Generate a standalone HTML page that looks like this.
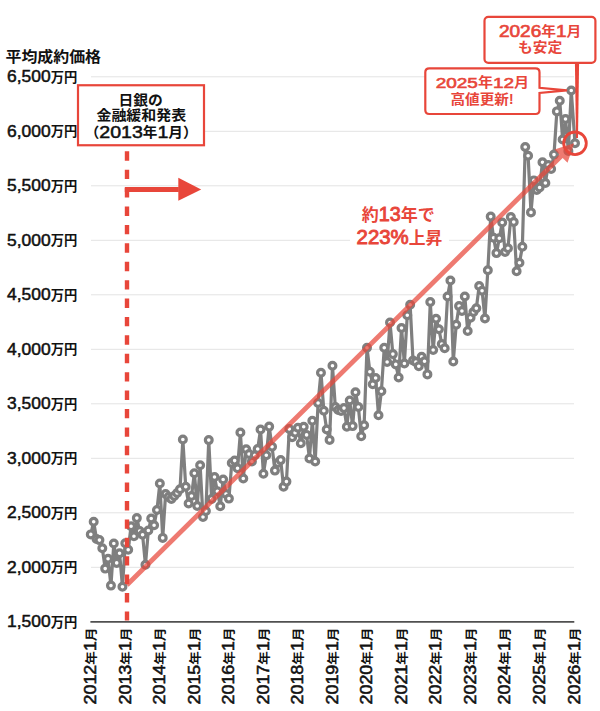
<!DOCTYPE html><html><head><meta charset="utf-8"><title>平均成約価格</title><style>
html,body{margin:0;padding:0;background:#fff;}
svg{display:block;}
text{font-family:"Liberation Sans", "Noto Sans CJK JP", sans-serif;font-weight:700;}
.d{font-weight:400;stroke:currentColor;}
</style></head><body>
<svg width="600" height="711" viewBox="0 0 600 711">
<rect width="600" height="711" fill="#fff"/>
<line x1="91" y1="76.8" x2="574" y2="76.8" stroke="#e3e3e3" stroke-width="1"/>
<line x1="91" y1="131.3" x2="574" y2="131.3" stroke="#e3e3e3" stroke-width="1"/>
<line x1="91" y1="185.8" x2="574" y2="185.8" stroke="#e3e3e3" stroke-width="1"/>
<line x1="91" y1="240.3" x2="574" y2="240.3" stroke="#e3e3e3" stroke-width="1"/>
<line x1="91" y1="294.8" x2="574" y2="294.8" stroke="#e3e3e3" stroke-width="1"/>
<line x1="91" y1="349.3" x2="574" y2="349.3" stroke="#e3e3e3" stroke-width="1"/>
<line x1="91" y1="403.8" x2="574" y2="403.8" stroke="#e3e3e3" stroke-width="1"/>
<line x1="91" y1="458.3" x2="574" y2="458.3" stroke="#e3e3e3" stroke-width="1"/>
<line x1="91" y1="512.8" x2="574" y2="512.8" stroke="#e3e3e3" stroke-width="1"/>
<line x1="91" y1="567.3" x2="574" y2="567.3" stroke="#e3e3e3" stroke-width="1"/>
<line x1="90.4" y1="621.9" x2="574.3" y2="621.9" stroke="#505050" stroke-width="1.7"/>
<text x="77.21" y="81.70" text-anchor="end" fill="#111" style="color:#111"><tspan dy="0.50" class="d" style="font-size:16.20px;stroke-width:0.49px" textLength="43.66" lengthAdjust="spacingAndGlyphs">6,500</tspan><tspan dy="-0.50" style="font-size:13.40px" textLength="26.58" lengthAdjust="spacingAndGlyphs">万円</tspan></text>
<text x="77.21" y="136.20" text-anchor="end" fill="#111" style="color:#111"><tspan dy="0.50" class="d" style="font-size:16.20px;stroke-width:0.49px" textLength="43.66" lengthAdjust="spacingAndGlyphs">6,000</tspan><tspan dy="-0.50" style="font-size:13.40px" textLength="26.58" lengthAdjust="spacingAndGlyphs">万円</tspan></text>
<text x="77.21" y="190.70" text-anchor="end" fill="#111" style="color:#111"><tspan dy="0.50" class="d" style="font-size:16.20px;stroke-width:0.49px" textLength="43.66" lengthAdjust="spacingAndGlyphs">5,500</tspan><tspan dy="-0.50" style="font-size:13.40px" textLength="26.58" lengthAdjust="spacingAndGlyphs">万円</tspan></text>
<text x="77.21" y="245.20" text-anchor="end" fill="#111" style="color:#111"><tspan dy="0.50" class="d" style="font-size:16.20px;stroke-width:0.49px" textLength="43.66" lengthAdjust="spacingAndGlyphs">5,000</tspan><tspan dy="-0.50" style="font-size:13.40px" textLength="26.58" lengthAdjust="spacingAndGlyphs">万円</tspan></text>
<text x="77.21" y="299.70" text-anchor="end" fill="#111" style="color:#111"><tspan dy="0.50" class="d" style="font-size:16.20px;stroke-width:0.49px" textLength="43.66" lengthAdjust="spacingAndGlyphs">4,500</tspan><tspan dy="-0.50" style="font-size:13.40px" textLength="26.58" lengthAdjust="spacingAndGlyphs">万円</tspan></text>
<text x="77.21" y="354.20" text-anchor="end" fill="#111" style="color:#111"><tspan dy="0.50" class="d" style="font-size:16.20px;stroke-width:0.49px" textLength="43.66" lengthAdjust="spacingAndGlyphs">4,000</tspan><tspan dy="-0.50" style="font-size:13.40px" textLength="26.58" lengthAdjust="spacingAndGlyphs">万円</tspan></text>
<text x="77.21" y="408.70" text-anchor="end" fill="#111" style="color:#111"><tspan dy="0.50" class="d" style="font-size:16.20px;stroke-width:0.49px" textLength="43.66" lengthAdjust="spacingAndGlyphs">3,500</tspan><tspan dy="-0.50" style="font-size:13.40px" textLength="26.58" lengthAdjust="spacingAndGlyphs">万円</tspan></text>
<text x="77.21" y="463.20" text-anchor="end" fill="#111" style="color:#111"><tspan dy="0.50" class="d" style="font-size:16.20px;stroke-width:0.49px" textLength="43.66" lengthAdjust="spacingAndGlyphs">3,000</tspan><tspan dy="-0.50" style="font-size:13.40px" textLength="26.58" lengthAdjust="spacingAndGlyphs">万円</tspan></text>
<text x="77.21" y="517.70" text-anchor="end" fill="#111" style="color:#111"><tspan dy="0.50" class="d" style="font-size:16.20px;stroke-width:0.49px" textLength="43.66" lengthAdjust="spacingAndGlyphs">2,500</tspan><tspan dy="-0.50" style="font-size:13.40px" textLength="26.58" lengthAdjust="spacingAndGlyphs">万円</tspan></text>
<text x="77.21" y="572.20" text-anchor="end" fill="#111" style="color:#111"><tspan dy="0.50" class="d" style="font-size:16.20px;stroke-width:0.49px" textLength="43.66" lengthAdjust="spacingAndGlyphs">2,000</tspan><tspan dy="-0.50" style="font-size:13.40px" textLength="26.58" lengthAdjust="spacingAndGlyphs">万円</tspan></text>
<text x="77.21" y="626.70" text-anchor="end" fill="#111" style="color:#111"><tspan dy="0.50" class="d" style="font-size:16.20px;stroke-width:0.49px" textLength="43.66" lengthAdjust="spacingAndGlyphs">1,500</tspan><tspan dy="-0.50" style="font-size:13.40px" textLength="26.58" lengthAdjust="spacingAndGlyphs">万円</tspan></text>
<text x="5.49" y="62.17" text-anchor="start" fill="#111" style="color:#111"><tspan style="font-size:15.30px" textLength="95.57" lengthAdjust="spacingAndGlyphs">平均成約価格</tspan></text>
<text transform="translate(96.00,627.61) rotate(-90)" text-anchor="end" fill="#111" style="color:#111"><tspan class="d" style="font-size:15.80px;stroke-width:0.55px" textLength="39.74" lengthAdjust="spacingAndGlyphs">2012</tspan><tspan style="font-size:12.35px" textLength="13.59" lengthAdjust="spacingAndGlyphs">年</tspan><tspan class="d" style="font-size:15.80px;stroke-width:0.55px" textLength="9.94" lengthAdjust="spacingAndGlyphs">1</tspan><tspan style="font-size:12.35px" textLength="13.59" lengthAdjust="spacingAndGlyphs">月</tspan></text>
<text transform="translate(130.54,627.61) rotate(-90)" text-anchor="end" fill="#111" style="color:#111"><tspan class="d" style="font-size:15.80px;stroke-width:0.55px" textLength="39.74" lengthAdjust="spacingAndGlyphs">2013</tspan><tspan style="font-size:12.35px" textLength="13.59" lengthAdjust="spacingAndGlyphs">年</tspan><tspan class="d" style="font-size:15.80px;stroke-width:0.55px" textLength="9.94" lengthAdjust="spacingAndGlyphs">1</tspan><tspan style="font-size:12.35px" textLength="13.59" lengthAdjust="spacingAndGlyphs">月</tspan></text>
<text transform="translate(165.08,627.61) rotate(-90)" text-anchor="end" fill="#111" style="color:#111"><tspan class="d" style="font-size:15.80px;stroke-width:0.55px" textLength="39.74" lengthAdjust="spacingAndGlyphs">2014</tspan><tspan style="font-size:12.35px" textLength="13.59" lengthAdjust="spacingAndGlyphs">年</tspan><tspan class="d" style="font-size:15.80px;stroke-width:0.55px" textLength="9.94" lengthAdjust="spacingAndGlyphs">1</tspan><tspan style="font-size:12.35px" textLength="13.59" lengthAdjust="spacingAndGlyphs">月</tspan></text>
<text transform="translate(199.62,627.61) rotate(-90)" text-anchor="end" fill="#111" style="color:#111"><tspan class="d" style="font-size:15.80px;stroke-width:0.55px" textLength="39.74" lengthAdjust="spacingAndGlyphs">2015</tspan><tspan style="font-size:12.35px" textLength="13.59" lengthAdjust="spacingAndGlyphs">年</tspan><tspan class="d" style="font-size:15.80px;stroke-width:0.55px" textLength="9.94" lengthAdjust="spacingAndGlyphs">1</tspan><tspan style="font-size:12.35px" textLength="13.59" lengthAdjust="spacingAndGlyphs">月</tspan></text>
<text transform="translate(234.16,627.61) rotate(-90)" text-anchor="end" fill="#111" style="color:#111"><tspan class="d" style="font-size:15.80px;stroke-width:0.55px" textLength="39.74" lengthAdjust="spacingAndGlyphs">2016</tspan><tspan style="font-size:12.35px" textLength="13.59" lengthAdjust="spacingAndGlyphs">年</tspan><tspan class="d" style="font-size:15.80px;stroke-width:0.55px" textLength="9.94" lengthAdjust="spacingAndGlyphs">1</tspan><tspan style="font-size:12.35px" textLength="13.59" lengthAdjust="spacingAndGlyphs">月</tspan></text>
<text transform="translate(268.70,627.61) rotate(-90)" text-anchor="end" fill="#111" style="color:#111"><tspan class="d" style="font-size:15.80px;stroke-width:0.55px" textLength="39.74" lengthAdjust="spacingAndGlyphs">2017</tspan><tspan style="font-size:12.35px" textLength="13.59" lengthAdjust="spacingAndGlyphs">年</tspan><tspan class="d" style="font-size:15.80px;stroke-width:0.55px" textLength="9.94" lengthAdjust="spacingAndGlyphs">1</tspan><tspan style="font-size:12.35px" textLength="13.59" lengthAdjust="spacingAndGlyphs">月</tspan></text>
<text transform="translate(303.24,627.61) rotate(-90)" text-anchor="end" fill="#111" style="color:#111"><tspan class="d" style="font-size:15.80px;stroke-width:0.55px" textLength="39.74" lengthAdjust="spacingAndGlyphs">2018</tspan><tspan style="font-size:12.35px" textLength="13.59" lengthAdjust="spacingAndGlyphs">年</tspan><tspan class="d" style="font-size:15.80px;stroke-width:0.55px" textLength="9.94" lengthAdjust="spacingAndGlyphs">1</tspan><tspan style="font-size:12.35px" textLength="13.59" lengthAdjust="spacingAndGlyphs">月</tspan></text>
<text transform="translate(337.78,627.61) rotate(-90)" text-anchor="end" fill="#111" style="color:#111"><tspan class="d" style="font-size:15.80px;stroke-width:0.55px" textLength="39.74" lengthAdjust="spacingAndGlyphs">2019</tspan><tspan style="font-size:12.35px" textLength="13.59" lengthAdjust="spacingAndGlyphs">年</tspan><tspan class="d" style="font-size:15.80px;stroke-width:0.55px" textLength="9.94" lengthAdjust="spacingAndGlyphs">1</tspan><tspan style="font-size:12.35px" textLength="13.59" lengthAdjust="spacingAndGlyphs">月</tspan></text>
<text transform="translate(372.32,627.61) rotate(-90)" text-anchor="end" fill="#111" style="color:#111"><tspan class="d" style="font-size:15.80px;stroke-width:0.55px" textLength="39.74" lengthAdjust="spacingAndGlyphs">2020</tspan><tspan style="font-size:12.35px" textLength="13.59" lengthAdjust="spacingAndGlyphs">年</tspan><tspan class="d" style="font-size:15.80px;stroke-width:0.55px" textLength="9.94" lengthAdjust="spacingAndGlyphs">1</tspan><tspan style="font-size:12.35px" textLength="13.59" lengthAdjust="spacingAndGlyphs">月</tspan></text>
<text transform="translate(406.86,627.61) rotate(-90)" text-anchor="end" fill="#111" style="color:#111"><tspan class="d" style="font-size:15.80px;stroke-width:0.55px" textLength="39.74" lengthAdjust="spacingAndGlyphs">2021</tspan><tspan style="font-size:12.35px" textLength="13.59" lengthAdjust="spacingAndGlyphs">年</tspan><tspan class="d" style="font-size:15.80px;stroke-width:0.55px" textLength="9.94" lengthAdjust="spacingAndGlyphs">1</tspan><tspan style="font-size:12.35px" textLength="13.59" lengthAdjust="spacingAndGlyphs">月</tspan></text>
<text transform="translate(441.40,627.61) rotate(-90)" text-anchor="end" fill="#111" style="color:#111"><tspan class="d" style="font-size:15.80px;stroke-width:0.55px" textLength="39.74" lengthAdjust="spacingAndGlyphs">2022</tspan><tspan style="font-size:12.35px" textLength="13.59" lengthAdjust="spacingAndGlyphs">年</tspan><tspan class="d" style="font-size:15.80px;stroke-width:0.55px" textLength="9.94" lengthAdjust="spacingAndGlyphs">1</tspan><tspan style="font-size:12.35px" textLength="13.59" lengthAdjust="spacingAndGlyphs">月</tspan></text>
<text transform="translate(475.94,627.61) rotate(-90)" text-anchor="end" fill="#111" style="color:#111"><tspan class="d" style="font-size:15.80px;stroke-width:0.55px" textLength="39.74" lengthAdjust="spacingAndGlyphs">2023</tspan><tspan style="font-size:12.35px" textLength="13.59" lengthAdjust="spacingAndGlyphs">年</tspan><tspan class="d" style="font-size:15.80px;stroke-width:0.55px" textLength="9.94" lengthAdjust="spacingAndGlyphs">1</tspan><tspan style="font-size:12.35px" textLength="13.59" lengthAdjust="spacingAndGlyphs">月</tspan></text>
<text transform="translate(510.48,627.61) rotate(-90)" text-anchor="end" fill="#111" style="color:#111"><tspan class="d" style="font-size:15.80px;stroke-width:0.55px" textLength="39.74" lengthAdjust="spacingAndGlyphs">2024</tspan><tspan style="font-size:12.35px" textLength="13.59" lengthAdjust="spacingAndGlyphs">年</tspan><tspan class="d" style="font-size:15.80px;stroke-width:0.55px" textLength="9.94" lengthAdjust="spacingAndGlyphs">1</tspan><tspan style="font-size:12.35px" textLength="13.59" lengthAdjust="spacingAndGlyphs">月</tspan></text>
<text transform="translate(545.02,627.61) rotate(-90)" text-anchor="end" fill="#111" style="color:#111"><tspan class="d" style="font-size:15.80px;stroke-width:0.55px" textLength="39.74" lengthAdjust="spacingAndGlyphs">2025</tspan><tspan style="font-size:12.35px" textLength="13.59" lengthAdjust="spacingAndGlyphs">年</tspan><tspan class="d" style="font-size:15.80px;stroke-width:0.55px" textLength="9.94" lengthAdjust="spacingAndGlyphs">1</tspan><tspan style="font-size:12.35px" textLength="13.59" lengthAdjust="spacingAndGlyphs">月</tspan></text>
<text transform="translate(579.56,627.61) rotate(-90)" text-anchor="end" fill="#111" style="color:#111"><tspan class="d" style="font-size:15.80px;stroke-width:0.55px" textLength="39.74" lengthAdjust="spacingAndGlyphs">2026</tspan><tspan style="font-size:12.35px" textLength="13.59" lengthAdjust="spacingAndGlyphs">年</tspan><tspan class="d" style="font-size:15.80px;stroke-width:0.55px" textLength="9.94" lengthAdjust="spacingAndGlyphs">1</tspan><tspan style="font-size:12.35px" textLength="13.59" lengthAdjust="spacingAndGlyphs">月</tspan></text>
<polyline points="90.80,534.40 93.68,521.80 96.55,539.00 99.43,540.10 102.31,548.30 105.19,568.60 108.06,558.80 110.94,585.60 113.82,543.50 116.69,562.90 119.57,553.30 122.45,586.70 125.32,543.30 128.20,549.70 131.08,526.30 133.95,536.20 136.83,518.10 139.71,531.00 142.59,534.80 145.46,564.80 148.34,530.50 151.22,518.50 154.09,525.20 156.97,510.00 159.85,483.50 162.72,537.90 165.60,494.00 168.48,497.00 171.36,499.00 174.23,496.00 177.11,493.00 179.99,489.30 182.86,439.50 185.74,486.80 188.62,503.50 191.50,496.00 194.37,473.30 197.25,506.00 200.13,465.30 203.00,517.00 205.88,511.00 208.76,440.10 211.63,499.00 214.51,477.00 217.39,491.30 220.26,506.20 223.14,479.50 226.02,494.00 228.90,498.60 231.77,463.00 234.65,460.60 237.53,468.20 240.40,432.50 243.28,478.50 246.16,449.20 249.03,454.00 251.91,461.50 254.79,455.20 257.67,449.00 260.54,429.50 263.42,473.70 266.30,455.20 269.17,426.60 272.05,446.70 274.93,470.60 277.81,463.00 280.68,460.10 283.56,486.70 286.44,481.60 289.31,429.00 292.19,437.30 295.07,432.80 297.94,427.70 300.82,443.20 303.70,426.70 306.57,434.90 309.45,458.50 312.33,420.70 315.21,461.50 318.08,403.00 320.96,372.70 323.84,410.70 326.71,429.50 329.59,439.90 332.47,365.80 335.34,407.00 338.22,410.00 341.10,411.00 343.98,408.10 346.85,426.70 349.73,400.50 352.61,426.10 355.48,392.30 358.36,407.00 361.24,436.20 364.12,425.30 366.99,347.80 369.87,371.80 372.75,384.20 375.62,378.00 378.50,415.20 381.38,391.30 384.25,347.80 387.13,362.00 390.01,322.50 392.88,354.10 395.76,364.40 398.64,377.50 401.52,328.00 404.39,363.50 407.27,315.30 410.15,304.80 413.02,360.50 415.90,362.00 418.78,366.30 421.65,356.80 424.53,361.30 427.41,374.40 430.29,302.00 433.16,350.00 436.04,318.70 438.92,329.20 441.79,344.00 444.67,348.20 447.55,296.50 450.43,280.50 453.30,361.50 456.18,324.80 459.06,306.10 461.93,311.00 464.81,296.50 467.69,331.00 470.56,317.80 473.44,312.00 476.32,308.20 479.19,286.00 482.07,290.70 484.95,318.50 487.83,270.20 490.70,216.60 493.58,237.70 496.46,253.10 499.33,238.20 502.21,222.50 505.09,252.00 507.96,248.30 510.84,217.00 513.72,222.00 516.60,271.20 519.47,262.80 522.35,246.80 525.23,147.00 528.10,155.80 530.98,212.40 533.86,180.40 536.73,190.00 539.61,187.50 542.49,162.30 545.37,183.00 548.24,165.00 551.12,169.00 554.00,154.60 556.87,111.40 559.75,100.80 562.63,139.50 565.50,119.00 568.38,151.00 571.26,90.50 575.00,143.30" fill="none" stroke="#7f7f7f" stroke-width="3.2" stroke-linejoin="round"/>
<circle cx="90.80" cy="534.40" r="3.4" fill="#fff" stroke="#7f7f7f" stroke-width="3.2"/>
<circle cx="93.68" cy="521.80" r="3.4" fill="#fff" stroke="#7f7f7f" stroke-width="3.2"/>
<circle cx="96.55" cy="539.00" r="3.4" fill="#fff" stroke="#7f7f7f" stroke-width="3.2"/>
<circle cx="99.43" cy="540.10" r="3.4" fill="#fff" stroke="#7f7f7f" stroke-width="3.2"/>
<circle cx="102.31" cy="548.30" r="3.4" fill="#fff" stroke="#7f7f7f" stroke-width="3.2"/>
<circle cx="105.19" cy="568.60" r="3.4" fill="#fff" stroke="#7f7f7f" stroke-width="3.2"/>
<circle cx="108.06" cy="558.80" r="3.4" fill="#fff" stroke="#7f7f7f" stroke-width="3.2"/>
<circle cx="110.94" cy="585.60" r="3.4" fill="#fff" stroke="#7f7f7f" stroke-width="3.2"/>
<circle cx="113.82" cy="543.50" r="3.4" fill="#fff" stroke="#7f7f7f" stroke-width="3.2"/>
<circle cx="116.69" cy="562.90" r="3.4" fill="#fff" stroke="#7f7f7f" stroke-width="3.2"/>
<circle cx="119.57" cy="553.30" r="3.4" fill="#fff" stroke="#7f7f7f" stroke-width="3.2"/>
<circle cx="122.45" cy="586.70" r="3.4" fill="#fff" stroke="#7f7f7f" stroke-width="3.2"/>
<circle cx="125.32" cy="543.30" r="3.4" fill="#fff" stroke="#7f7f7f" stroke-width="3.2"/>
<circle cx="128.20" cy="549.70" r="3.4" fill="#fff" stroke="#7f7f7f" stroke-width="3.2"/>
<circle cx="131.08" cy="526.30" r="3.4" fill="#fff" stroke="#7f7f7f" stroke-width="3.2"/>
<circle cx="133.95" cy="536.20" r="3.4" fill="#fff" stroke="#7f7f7f" stroke-width="3.2"/>
<circle cx="136.83" cy="518.10" r="3.4" fill="#fff" stroke="#7f7f7f" stroke-width="3.2"/>
<circle cx="139.71" cy="531.00" r="3.4" fill="#fff" stroke="#7f7f7f" stroke-width="3.2"/>
<circle cx="142.59" cy="534.80" r="3.4" fill="#fff" stroke="#7f7f7f" stroke-width="3.2"/>
<circle cx="145.46" cy="564.80" r="3.4" fill="#fff" stroke="#7f7f7f" stroke-width="3.2"/>
<circle cx="148.34" cy="530.50" r="3.4" fill="#fff" stroke="#7f7f7f" stroke-width="3.2"/>
<circle cx="151.22" cy="518.50" r="3.4" fill="#fff" stroke="#7f7f7f" stroke-width="3.2"/>
<circle cx="154.09" cy="525.20" r="3.4" fill="#fff" stroke="#7f7f7f" stroke-width="3.2"/>
<circle cx="156.97" cy="510.00" r="3.4" fill="#fff" stroke="#7f7f7f" stroke-width="3.2"/>
<circle cx="159.85" cy="483.50" r="3.4" fill="#fff" stroke="#7f7f7f" stroke-width="3.2"/>
<circle cx="162.72" cy="537.90" r="3.4" fill="#fff" stroke="#7f7f7f" stroke-width="3.2"/>
<circle cx="165.60" cy="494.00" r="3.4" fill="#fff" stroke="#7f7f7f" stroke-width="3.2"/>
<circle cx="168.48" cy="497.00" r="3.4" fill="#fff" stroke="#7f7f7f" stroke-width="3.2"/>
<circle cx="171.36" cy="499.00" r="3.4" fill="#fff" stroke="#7f7f7f" stroke-width="3.2"/>
<circle cx="174.23" cy="496.00" r="3.4" fill="#fff" stroke="#7f7f7f" stroke-width="3.2"/>
<circle cx="177.11" cy="493.00" r="3.4" fill="#fff" stroke="#7f7f7f" stroke-width="3.2"/>
<circle cx="179.99" cy="489.30" r="3.4" fill="#fff" stroke="#7f7f7f" stroke-width="3.2"/>
<circle cx="182.86" cy="439.50" r="3.4" fill="#fff" stroke="#7f7f7f" stroke-width="3.2"/>
<circle cx="185.74" cy="486.80" r="3.4" fill="#fff" stroke="#7f7f7f" stroke-width="3.2"/>
<circle cx="188.62" cy="503.50" r="3.4" fill="#fff" stroke="#7f7f7f" stroke-width="3.2"/>
<circle cx="191.50" cy="496.00" r="3.4" fill="#fff" stroke="#7f7f7f" stroke-width="3.2"/>
<circle cx="194.37" cy="473.30" r="3.4" fill="#fff" stroke="#7f7f7f" stroke-width="3.2"/>
<circle cx="197.25" cy="506.00" r="3.4" fill="#fff" stroke="#7f7f7f" stroke-width="3.2"/>
<circle cx="200.13" cy="465.30" r="3.4" fill="#fff" stroke="#7f7f7f" stroke-width="3.2"/>
<circle cx="203.00" cy="517.00" r="3.4" fill="#fff" stroke="#7f7f7f" stroke-width="3.2"/>
<circle cx="205.88" cy="511.00" r="3.4" fill="#fff" stroke="#7f7f7f" stroke-width="3.2"/>
<circle cx="208.76" cy="440.10" r="3.4" fill="#fff" stroke="#7f7f7f" stroke-width="3.2"/>
<circle cx="211.63" cy="499.00" r="3.4" fill="#fff" stroke="#7f7f7f" stroke-width="3.2"/>
<circle cx="214.51" cy="477.00" r="3.4" fill="#fff" stroke="#7f7f7f" stroke-width="3.2"/>
<circle cx="217.39" cy="491.30" r="3.4" fill="#fff" stroke="#7f7f7f" stroke-width="3.2"/>
<circle cx="220.26" cy="506.20" r="3.4" fill="#fff" stroke="#7f7f7f" stroke-width="3.2"/>
<circle cx="223.14" cy="479.50" r="3.4" fill="#fff" stroke="#7f7f7f" stroke-width="3.2"/>
<circle cx="226.02" cy="494.00" r="3.4" fill="#fff" stroke="#7f7f7f" stroke-width="3.2"/>
<circle cx="228.90" cy="498.60" r="3.4" fill="#fff" stroke="#7f7f7f" stroke-width="3.2"/>
<circle cx="231.77" cy="463.00" r="3.4" fill="#fff" stroke="#7f7f7f" stroke-width="3.2"/>
<circle cx="234.65" cy="460.60" r="3.4" fill="#fff" stroke="#7f7f7f" stroke-width="3.2"/>
<circle cx="237.53" cy="468.20" r="3.4" fill="#fff" stroke="#7f7f7f" stroke-width="3.2"/>
<circle cx="240.40" cy="432.50" r="3.4" fill="#fff" stroke="#7f7f7f" stroke-width="3.2"/>
<circle cx="243.28" cy="478.50" r="3.4" fill="#fff" stroke="#7f7f7f" stroke-width="3.2"/>
<circle cx="246.16" cy="449.20" r="3.4" fill="#fff" stroke="#7f7f7f" stroke-width="3.2"/>
<circle cx="249.03" cy="454.00" r="3.4" fill="#fff" stroke="#7f7f7f" stroke-width="3.2"/>
<circle cx="251.91" cy="461.50" r="3.4" fill="#fff" stroke="#7f7f7f" stroke-width="3.2"/>
<circle cx="254.79" cy="455.20" r="3.4" fill="#fff" stroke="#7f7f7f" stroke-width="3.2"/>
<circle cx="257.67" cy="449.00" r="3.4" fill="#fff" stroke="#7f7f7f" stroke-width="3.2"/>
<circle cx="260.54" cy="429.50" r="3.4" fill="#fff" stroke="#7f7f7f" stroke-width="3.2"/>
<circle cx="263.42" cy="473.70" r="3.4" fill="#fff" stroke="#7f7f7f" stroke-width="3.2"/>
<circle cx="266.30" cy="455.20" r="3.4" fill="#fff" stroke="#7f7f7f" stroke-width="3.2"/>
<circle cx="269.17" cy="426.60" r="3.4" fill="#fff" stroke="#7f7f7f" stroke-width="3.2"/>
<circle cx="272.05" cy="446.70" r="3.4" fill="#fff" stroke="#7f7f7f" stroke-width="3.2"/>
<circle cx="274.93" cy="470.60" r="3.4" fill="#fff" stroke="#7f7f7f" stroke-width="3.2"/>
<circle cx="277.81" cy="463.00" r="3.4" fill="#fff" stroke="#7f7f7f" stroke-width="3.2"/>
<circle cx="280.68" cy="460.10" r="3.4" fill="#fff" stroke="#7f7f7f" stroke-width="3.2"/>
<circle cx="283.56" cy="486.70" r="3.4" fill="#fff" stroke="#7f7f7f" stroke-width="3.2"/>
<circle cx="286.44" cy="481.60" r="3.4" fill="#fff" stroke="#7f7f7f" stroke-width="3.2"/>
<circle cx="289.31" cy="429.00" r="3.4" fill="#fff" stroke="#7f7f7f" stroke-width="3.2"/>
<circle cx="292.19" cy="437.30" r="3.4" fill="#fff" stroke="#7f7f7f" stroke-width="3.2"/>
<circle cx="295.07" cy="432.80" r="3.4" fill="#fff" stroke="#7f7f7f" stroke-width="3.2"/>
<circle cx="297.94" cy="427.70" r="3.4" fill="#fff" stroke="#7f7f7f" stroke-width="3.2"/>
<circle cx="300.82" cy="443.20" r="3.4" fill="#fff" stroke="#7f7f7f" stroke-width="3.2"/>
<circle cx="303.70" cy="426.70" r="3.4" fill="#fff" stroke="#7f7f7f" stroke-width="3.2"/>
<circle cx="306.57" cy="434.90" r="3.4" fill="#fff" stroke="#7f7f7f" stroke-width="3.2"/>
<circle cx="309.45" cy="458.50" r="3.4" fill="#fff" stroke="#7f7f7f" stroke-width="3.2"/>
<circle cx="312.33" cy="420.70" r="3.4" fill="#fff" stroke="#7f7f7f" stroke-width="3.2"/>
<circle cx="315.21" cy="461.50" r="3.4" fill="#fff" stroke="#7f7f7f" stroke-width="3.2"/>
<circle cx="318.08" cy="403.00" r="3.4" fill="#fff" stroke="#7f7f7f" stroke-width="3.2"/>
<circle cx="320.96" cy="372.70" r="3.4" fill="#fff" stroke="#7f7f7f" stroke-width="3.2"/>
<circle cx="323.84" cy="410.70" r="3.4" fill="#fff" stroke="#7f7f7f" stroke-width="3.2"/>
<circle cx="326.71" cy="429.50" r="3.4" fill="#fff" stroke="#7f7f7f" stroke-width="3.2"/>
<circle cx="329.59" cy="439.90" r="3.4" fill="#fff" stroke="#7f7f7f" stroke-width="3.2"/>
<circle cx="332.47" cy="365.80" r="3.4" fill="#fff" stroke="#7f7f7f" stroke-width="3.2"/>
<circle cx="335.34" cy="407.00" r="3.4" fill="#fff" stroke="#7f7f7f" stroke-width="3.2"/>
<circle cx="338.22" cy="410.00" r="3.4" fill="#fff" stroke="#7f7f7f" stroke-width="3.2"/>
<circle cx="341.10" cy="411.00" r="3.4" fill="#fff" stroke="#7f7f7f" stroke-width="3.2"/>
<circle cx="343.98" cy="408.10" r="3.4" fill="#fff" stroke="#7f7f7f" stroke-width="3.2"/>
<circle cx="346.85" cy="426.70" r="3.4" fill="#fff" stroke="#7f7f7f" stroke-width="3.2"/>
<circle cx="349.73" cy="400.50" r="3.4" fill="#fff" stroke="#7f7f7f" stroke-width="3.2"/>
<circle cx="352.61" cy="426.10" r="3.4" fill="#fff" stroke="#7f7f7f" stroke-width="3.2"/>
<circle cx="355.48" cy="392.30" r="3.4" fill="#fff" stroke="#7f7f7f" stroke-width="3.2"/>
<circle cx="358.36" cy="407.00" r="3.4" fill="#fff" stroke="#7f7f7f" stroke-width="3.2"/>
<circle cx="361.24" cy="436.20" r="3.4" fill="#fff" stroke="#7f7f7f" stroke-width="3.2"/>
<circle cx="364.12" cy="425.30" r="3.4" fill="#fff" stroke="#7f7f7f" stroke-width="3.2"/>
<circle cx="366.99" cy="347.80" r="3.4" fill="#fff" stroke="#7f7f7f" stroke-width="3.2"/>
<circle cx="369.87" cy="371.80" r="3.4" fill="#fff" stroke="#7f7f7f" stroke-width="3.2"/>
<circle cx="372.75" cy="384.20" r="3.4" fill="#fff" stroke="#7f7f7f" stroke-width="3.2"/>
<circle cx="375.62" cy="378.00" r="3.4" fill="#fff" stroke="#7f7f7f" stroke-width="3.2"/>
<circle cx="378.50" cy="415.20" r="3.4" fill="#fff" stroke="#7f7f7f" stroke-width="3.2"/>
<circle cx="381.38" cy="391.30" r="3.4" fill="#fff" stroke="#7f7f7f" stroke-width="3.2"/>
<circle cx="384.25" cy="347.80" r="3.4" fill="#fff" stroke="#7f7f7f" stroke-width="3.2"/>
<circle cx="387.13" cy="362.00" r="3.4" fill="#fff" stroke="#7f7f7f" stroke-width="3.2"/>
<circle cx="390.01" cy="322.50" r="3.4" fill="#fff" stroke="#7f7f7f" stroke-width="3.2"/>
<circle cx="392.88" cy="354.10" r="3.4" fill="#fff" stroke="#7f7f7f" stroke-width="3.2"/>
<circle cx="395.76" cy="364.40" r="3.4" fill="#fff" stroke="#7f7f7f" stroke-width="3.2"/>
<circle cx="398.64" cy="377.50" r="3.4" fill="#fff" stroke="#7f7f7f" stroke-width="3.2"/>
<circle cx="401.52" cy="328.00" r="3.4" fill="#fff" stroke="#7f7f7f" stroke-width="3.2"/>
<circle cx="404.39" cy="363.50" r="3.4" fill="#fff" stroke="#7f7f7f" stroke-width="3.2"/>
<circle cx="407.27" cy="315.30" r="3.4" fill="#fff" stroke="#7f7f7f" stroke-width="3.2"/>
<circle cx="410.15" cy="304.80" r="3.4" fill="#fff" stroke="#7f7f7f" stroke-width="3.2"/>
<circle cx="413.02" cy="360.50" r="3.4" fill="#fff" stroke="#7f7f7f" stroke-width="3.2"/>
<circle cx="415.90" cy="362.00" r="3.4" fill="#fff" stroke="#7f7f7f" stroke-width="3.2"/>
<circle cx="418.78" cy="366.30" r="3.4" fill="#fff" stroke="#7f7f7f" stroke-width="3.2"/>
<circle cx="421.65" cy="356.80" r="3.4" fill="#fff" stroke="#7f7f7f" stroke-width="3.2"/>
<circle cx="424.53" cy="361.30" r="3.4" fill="#fff" stroke="#7f7f7f" stroke-width="3.2"/>
<circle cx="427.41" cy="374.40" r="3.4" fill="#fff" stroke="#7f7f7f" stroke-width="3.2"/>
<circle cx="430.29" cy="302.00" r="3.4" fill="#fff" stroke="#7f7f7f" stroke-width="3.2"/>
<circle cx="433.16" cy="350.00" r="3.4" fill="#fff" stroke="#7f7f7f" stroke-width="3.2"/>
<circle cx="436.04" cy="318.70" r="3.4" fill="#fff" stroke="#7f7f7f" stroke-width="3.2"/>
<circle cx="438.92" cy="329.20" r="3.4" fill="#fff" stroke="#7f7f7f" stroke-width="3.2"/>
<circle cx="441.79" cy="344.00" r="3.4" fill="#fff" stroke="#7f7f7f" stroke-width="3.2"/>
<circle cx="444.67" cy="348.20" r="3.4" fill="#fff" stroke="#7f7f7f" stroke-width="3.2"/>
<circle cx="447.55" cy="296.50" r="3.4" fill="#fff" stroke="#7f7f7f" stroke-width="3.2"/>
<circle cx="450.43" cy="280.50" r="3.4" fill="#fff" stroke="#7f7f7f" stroke-width="3.2"/>
<circle cx="453.30" cy="361.50" r="3.4" fill="#fff" stroke="#7f7f7f" stroke-width="3.2"/>
<circle cx="456.18" cy="324.80" r="3.4" fill="#fff" stroke="#7f7f7f" stroke-width="3.2"/>
<circle cx="459.06" cy="306.10" r="3.4" fill="#fff" stroke="#7f7f7f" stroke-width="3.2"/>
<circle cx="461.93" cy="311.00" r="3.4" fill="#fff" stroke="#7f7f7f" stroke-width="3.2"/>
<circle cx="464.81" cy="296.50" r="3.4" fill="#fff" stroke="#7f7f7f" stroke-width="3.2"/>
<circle cx="467.69" cy="331.00" r="3.4" fill="#fff" stroke="#7f7f7f" stroke-width="3.2"/>
<circle cx="470.56" cy="317.80" r="3.4" fill="#fff" stroke="#7f7f7f" stroke-width="3.2"/>
<circle cx="473.44" cy="312.00" r="3.4" fill="#fff" stroke="#7f7f7f" stroke-width="3.2"/>
<circle cx="476.32" cy="308.20" r="3.4" fill="#fff" stroke="#7f7f7f" stroke-width="3.2"/>
<circle cx="479.19" cy="286.00" r="3.4" fill="#fff" stroke="#7f7f7f" stroke-width="3.2"/>
<circle cx="482.07" cy="290.70" r="3.4" fill="#fff" stroke="#7f7f7f" stroke-width="3.2"/>
<circle cx="484.95" cy="318.50" r="3.4" fill="#fff" stroke="#7f7f7f" stroke-width="3.2"/>
<circle cx="487.83" cy="270.20" r="3.4" fill="#fff" stroke="#7f7f7f" stroke-width="3.2"/>
<circle cx="490.70" cy="216.60" r="3.4" fill="#fff" stroke="#7f7f7f" stroke-width="3.2"/>
<circle cx="493.58" cy="237.70" r="3.4" fill="#fff" stroke="#7f7f7f" stroke-width="3.2"/>
<circle cx="496.46" cy="253.10" r="3.4" fill="#fff" stroke="#7f7f7f" stroke-width="3.2"/>
<circle cx="499.33" cy="238.20" r="3.4" fill="#fff" stroke="#7f7f7f" stroke-width="3.2"/>
<circle cx="502.21" cy="222.50" r="3.4" fill="#fff" stroke="#7f7f7f" stroke-width="3.2"/>
<circle cx="505.09" cy="252.00" r="3.4" fill="#fff" stroke="#7f7f7f" stroke-width="3.2"/>
<circle cx="507.96" cy="248.30" r="3.4" fill="#fff" stroke="#7f7f7f" stroke-width="3.2"/>
<circle cx="510.84" cy="217.00" r="3.4" fill="#fff" stroke="#7f7f7f" stroke-width="3.2"/>
<circle cx="513.72" cy="222.00" r="3.4" fill="#fff" stroke="#7f7f7f" stroke-width="3.2"/>
<circle cx="516.60" cy="271.20" r="3.4" fill="#fff" stroke="#7f7f7f" stroke-width="3.2"/>
<circle cx="519.47" cy="262.80" r="3.4" fill="#fff" stroke="#7f7f7f" stroke-width="3.2"/>
<circle cx="522.35" cy="246.80" r="3.4" fill="#fff" stroke="#7f7f7f" stroke-width="3.2"/>
<circle cx="525.23" cy="147.00" r="3.4" fill="#fff" stroke="#7f7f7f" stroke-width="3.2"/>
<circle cx="528.10" cy="155.80" r="3.4" fill="#fff" stroke="#7f7f7f" stroke-width="3.2"/>
<circle cx="530.98" cy="212.40" r="3.4" fill="#fff" stroke="#7f7f7f" stroke-width="3.2"/>
<circle cx="533.86" cy="180.40" r="3.4" fill="#fff" stroke="#7f7f7f" stroke-width="3.2"/>
<circle cx="536.73" cy="190.00" r="3.4" fill="#fff" stroke="#7f7f7f" stroke-width="3.2"/>
<circle cx="539.61" cy="187.50" r="3.4" fill="#fff" stroke="#7f7f7f" stroke-width="3.2"/>
<circle cx="542.49" cy="162.30" r="3.4" fill="#fff" stroke="#7f7f7f" stroke-width="3.2"/>
<circle cx="545.37" cy="183.00" r="3.4" fill="#fff" stroke="#7f7f7f" stroke-width="3.2"/>
<circle cx="548.24" cy="165.00" r="3.4" fill="#fff" stroke="#7f7f7f" stroke-width="3.2"/>
<circle cx="551.12" cy="169.00" r="3.4" fill="#fff" stroke="#7f7f7f" stroke-width="3.2"/>
<circle cx="554.00" cy="154.60" r="3.4" fill="#fff" stroke="#7f7f7f" stroke-width="3.2"/>
<circle cx="556.87" cy="111.40" r="3.4" fill="#fff" stroke="#7f7f7f" stroke-width="3.2"/>
<circle cx="559.75" cy="100.80" r="3.4" fill="#fff" stroke="#7f7f7f" stroke-width="3.2"/>
<circle cx="562.63" cy="139.50" r="3.4" fill="#fff" stroke="#7f7f7f" stroke-width="3.2"/>
<circle cx="565.50" cy="119.00" r="3.4" fill="#fff" stroke="#7f7f7f" stroke-width="3.2"/>
<circle cx="568.38" cy="151.00" r="3.4" fill="#fff" stroke="#7f7f7f" stroke-width="3.2"/>
<circle cx="571.26" cy="90.50" r="3.4" fill="#fff" stroke="#7f7f7f" stroke-width="3.2"/>
<circle cx="575.00" cy="143.30" r="3.4" fill="#fff" stroke="#7f7f7f" stroke-width="3.2"/>
<line x1="127" y1="151.3" x2="127" y2="620.5" stroke="#e8463a" stroke-width="4.4" stroke-dasharray="9.4 9.005"/>
<rect x="124.8" y="187" width="54" height="5" fill="#e8463a"/>
<polygon points="178.3,177.8 201.2,189.4 178.3,200.8" fill="#e8463a"/>
<polygon points="128.59,586.71 562.70,157.94 567.54,162.85 574.10,143.30 554.47,149.61 559.32,154.52 125.21,583.29" fill="#e8463a" fill-opacity="0.72"/>
<rect x="78" y="85.25" width="126" height="60" fill="#fff" stroke="#e8463a" stroke-width="2.2"/>
<text x="140.64" y="104.69" text-anchor="middle" fill="#111" style="color:#111"><tspan style="font-size:14.00px" textLength="44.26" lengthAdjust="spacingAndGlyphs">日銀の</tspan></text>
<text x="141.32" y="119.85" text-anchor="middle" fill="#111" style="color:#111"><tspan style="font-size:14.00px" textLength="89.65" lengthAdjust="spacingAndGlyphs">金融緩和発表</tspan></text>
<text x="141.14" y="137.25" text-anchor="middle" fill="#111" style="color:#111"><tspan style="font-size:14.00px" textLength="14.59" lengthAdjust="spacingAndGlyphs">（</tspan><tspan dy="1.00" class="d" style="font-size:16.50px;stroke-width:0.49px" textLength="43.59" lengthAdjust="spacingAndGlyphs">2013</tspan><tspan dy="-1.00" style="font-size:14.00px" textLength="14.59" lengthAdjust="spacingAndGlyphs">年</tspan><tspan dy="1.00" class="d" style="font-size:16.50px;stroke-width:0.49px" textLength="10.90" lengthAdjust="spacingAndGlyphs">1</tspan><tspan dy="-1.00" style="font-size:14.00px" textLength="29.19" lengthAdjust="spacingAndGlyphs">月）</tspan></text>
<rect x="350" y="203" width="99" height="46" fill="#fff"/>
<text x="398.21" y="221.10" text-anchor="middle" fill="#e8463a" style="color:#e8463a"><tspan style="font-size:16.50px" textLength="16.99" lengthAdjust="spacingAndGlyphs">約</tspan><tspan class="d" style="font-size:19.50px;stroke-width:0.88px" textLength="22.03" lengthAdjust="spacingAndGlyphs">13</tspan><tspan style="font-size:16.50px" textLength="33.99" lengthAdjust="spacingAndGlyphs">年で</tspan></text>
<text x="399.45" y="244.39" text-anchor="middle" fill="#e8463a" style="color:#e8463a"><tspan class="d" style="font-size:19.50px;stroke-width:0.88px" textLength="52.17" lengthAdjust="spacingAndGlyphs">223%</tspan><tspan style="font-size:16.50px" textLength="33.57" lengthAdjust="spacingAndGlyphs">上昇</tspan></text>
<path d="M429.3,68.3 H535.5 Q539.5,68.3 539.5,72.3 V87.8 L567,90.4 L539.5,93 V110 Q539.5,114 535.5,114 H429.3 Q425.3,114 425.3,110 V72.3 Q425.3,68.3 429.3,68.3 Z" fill="#fff" stroke="#e8463a" stroke-width="2.2" stroke-linejoin="miter"/>
<text x="482.40" y="87.25" text-anchor="middle" fill="#e8463a" style="color:#e8463a"><tspan dy="0.80" class="d" style="font-size:15.40px;stroke-width:0.62px" textLength="42.22" lengthAdjust="spacingAndGlyphs">2025</tspan><tspan dy="-0.80" style="font-size:13.20px" textLength="15.05" lengthAdjust="spacingAndGlyphs">年</tspan><tspan dy="0.80" class="d" style="font-size:15.40px;stroke-width:0.62px" textLength="21.11" lengthAdjust="spacingAndGlyphs">12</tspan><tspan dy="-0.80" style="font-size:13.20px" textLength="15.05" lengthAdjust="spacingAndGlyphs">月</tspan></text>
<text x="481.97" y="104.24" text-anchor="middle" fill="#e8463a" style="color:#e8463a"><tspan style="font-size:13.80px" textLength="58.54" lengthAdjust="spacingAndGlyphs">高値更新</tspan><tspan style="font-size:13.80px">!</tspan></text>
<rect x="484.5" y="16.9" width="110.9" height="45.9" rx="3.8" fill="#fff" stroke="#e8463a" stroke-width="2.2"/>
<polygon points="574.9,62 579.1,62 578,138 576,138" fill="#e8463a"/>
<text x="540.15" y="36.24" text-anchor="middle" fill="#e8463a" style="color:#e8463a"><tspan dy="0.80" class="d" style="font-size:15.60px;stroke-width:0.62px" textLength="42.33" lengthAdjust="spacingAndGlyphs">2026</tspan><tspan dy="-0.80" style="font-size:13.20px" textLength="14.75" lengthAdjust="spacingAndGlyphs">年</tspan><tspan dy="0.80" class="d" style="font-size:15.60px;stroke-width:0.62px" textLength="10.58" lengthAdjust="spacingAndGlyphs">1</tspan><tspan dy="-0.80" style="font-size:13.20px" textLength="14.75" lengthAdjust="spacingAndGlyphs">月</tspan></text>
<text x="540.02" y="52.38" text-anchor="middle" fill="#e8463a" style="color:#e8463a"><tspan style="font-size:14.20px" textLength="44.25" lengthAdjust="spacingAndGlyphs">も安定</tspan></text>
<circle cx="575" cy="143.3" r="11.3" fill="none" stroke="#e8463a" stroke-width="2.8"/>
</svg></body></html>
